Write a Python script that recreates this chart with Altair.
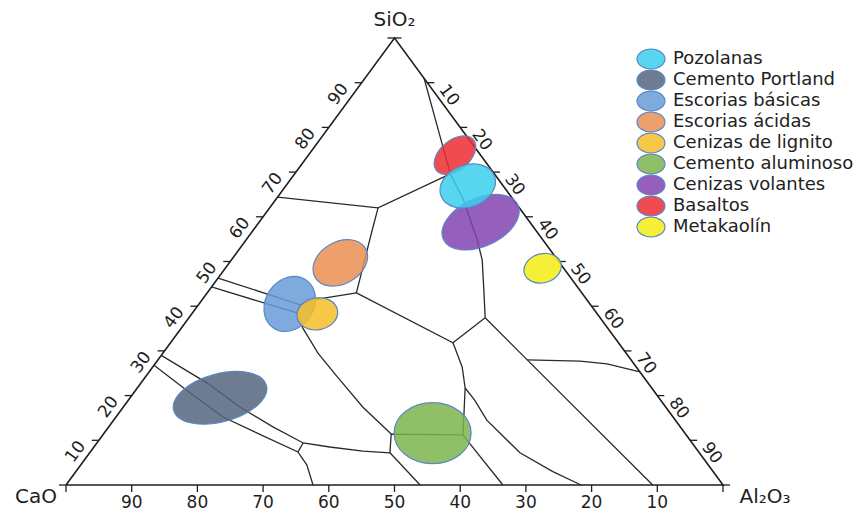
import altair as alt
import pandas as pd

# ---------------- data ----------------
tick_values = [0, 10, 20, 30, 40, 50, 60, 70, 80, 90, 100]
label_values = [10, 20, 30, 40, 50, 60, 70, 80, 90]

# Boundary lines as compositions (SiO2 %, Al2O3 %); CaO = 100 - SiO2 - Al2O3
line_a = [(91.0, 9.0), (69.6, 23.7), (63.8, 28.6), (54.8, 35.2), (50.3, 38.2), (43.6, 41.8), (37.4, 45.1)]
line_b = [(64.4, 0.0), (62.0, 16.5), (69.6, 23.7)]
line_c = [(62.0, 16.5), (57.0, 18.1), (43.0, 22.7), (31.8, 43.0), (37.4, 45.1)]
line_d = [(37.4, 45.1), (28.0, 56.2), (0.0, 89.3)]
line_e = [(28.0, 56.2), (27.7, 64.4), (27.1, 68.8), (25.3, 74.7)]
line_f = [(31.8, 43.0), (26.4, 47.1), (21.7, 49.9), (16.8, 52.2), (11.2, 54.8)]
line_g = [(21.7, 49.9), (19.0, 52.7), (14.5, 56.8), (7.2, 65.5), (3.0, 72.6), (0.0, 78.4)]
line_h = [(11.2, 54.8), (0.0, 66.5)]
line_i = [(11.2, 54.8), (11.4, 43.8), (7.2, 45.7), (0.0, 53.9)]
line_j = [(46.3, 0.0), (40.3, 15.5), (41.4, 16.9), (43.0, 22.7)]
line_k = [(44.3, 0.0), (38.5, 15.9), (35.1, 18.5), (29.5, 23.6), (24.2, 29.2), (17.4, 36.5), (11.4, 43.8)]
line_l = [(40.3, 15.5), (38.5, 15.9)]
line_m = [(29.0, 0.0), (22.8, 10.1), (17.4, 17.8), (13.0, 25.0), (9.4, 31.4), (8.5, 35.9), (7.6, 41.4), (7.2, 45.7)]
line_n = [(26.8, 0.0), (20.6, 8.6), (15.2, 16.3), (11.6, 23.3), (7.4, 31.6), (4.5, 34.4), (0.0, 37.6)]
line_o = [(9.4, 31.4), (7.4, 31.6)]
triangle = [(0.0, 0.0), (100.0, 0.0), (0.0, 100.0), (0.0, 0.0)]

# Material fields
names = ["Pozolanas", "Cemento Portland", "Escorias básicas", "Escorias ácidas",
         "Cenizas de lignito", "Cemento aluminoso", "Cenizas volantes", "Basaltos", "Metakaolín"]
colors = ["#3bcfed", "#54657e", "#679bd8", "#eb8f52", "#f6be28", "#7bb54d", "#8343b2", "#ed2b31", "#f3ed14"]
center_sio2 = [66.9, 19.5, 40.5, 49.7, 38.3, 11.6, 58.8, 73.8, 48.5]
center_al2o3 = [27.7, 13.7, 13.8, 16.9, 19.1, 50.0, 33.7, 22.3, 48.3]
draw_order = [8, 1, 2, 3, 4, 5, 6, 7, 9]
# ellipse extent (pixels) and tilt
ell_major = [28.5, 48, 29, 29, 20.5, 38.5, 41, 24, 19]
ell_minor = [21, 24, 24, 21, 16, 30.5, 24, 15, 14.5]
ell_angle = [340, 345, 305, 330, 350, 0, 335, 320, 345]


def ellipse_path(r, sx=1.0):
    k = 0.5523
    v = lambda z: f"{z:.4f}"
    return (f"M {v(-sx)} 0 C {v(-sx)} {v(-k*r)} {v(-k*sx)} {v(-r)} 0 {v(-r)} "
            f"C {v(k*sx)} {v(-r)} {v(sx)} {v(-k*r)} {v(sx)} 0 "
            f"C {v(sx)} {v(k*r)} {v(k*sx)} {v(r)} 0 {v(r)} "
            f"C {v(-k*sx)} {v(r)} {v(-sx)} {v(k*r)} {v(-sx)} 0 Z")


lines = {"a": line_a, "b": line_b, "c": line_c, "d": line_d, "e": line_e, "f": line_f,
         "g": line_g, "h": line_h, "i": line_i, "j": line_j, "k": line_k, "l": line_l,
         "m": line_m, "n": line_n, "o": line_o}
line_rows = []
for lid, pts in lines.items():
    for idx, (si, al) in enumerate(pts):
        line_rows.append({"lid": lid, "idx": idx, "si": si, "al": al})
lines_df = pd.DataFrame(line_rows)
tri_df = pd.DataFrame([{"idx": i, "si": si, "al": al} for i, (si, al) in enumerate(triangle)])

ell_df = pd.DataFrame({
    "name": names, "si": center_sio2, "al": center_al2o3, "ord": draw_order,
    "shape": [ellipse_path(mi / ma) for ma, mi in zip(ell_major, ell_minor)],
    "sz": [(2 * ma) ** 2 for ma in ell_major],
    "ang": ell_angle,
})
legend_df = pd.DataFrame({"name": names})

left_ticks = pd.DataFrame({"si": tick_values, "al": [0] * len(tick_values)})
bottom_ticks = pd.DataFrame({"si": [0] * len(tick_values), "al": [100 - v for v in tick_values]})
right_ticks = pd.DataFrame({"si": [100 - v for v in tick_values], "al": tick_values})

left_labels = pd.DataFrame({"si": label_values, "al": [0] * 9, "t": [str(v) for v in label_values]})
bottom_labels = pd.DataFrame({"si": [0] * 9, "al": [100 - v for v in label_values], "t": [str(v) for v in label_values]})
right_labels = pd.DataFrame({"si": [100 - v for v in label_values], "al": label_values, "t": [str(v) for v in label_values]})

vertex_names = ["SiO₂", "CaO", "Al₂O₃"]
vertex_si = [100, 0, 0]
vertex_al = [0, 0, 100]
vertex_dx = [0, -30, 42]
vertex_dy = [-18, 12, 12]

# ---------------- chart ----------------
X = alt.X("x:Q", scale=alt.Scale(domain=[0, 100], nice=False, zero=False), axis=None)
Y = alt.Y("y:Q", scale=alt.Scale(domain=[0, 100], nice=False, zero=False), axis=None)
calc = dict(x="datum.al + datum.si / 2", y="datum.si")
FONT = "DejaVu Sans"
color_scale = alt.Scale(domain=names, range=colors)

tri = alt.Chart(tri_df).mark_line(color="#1e1e1e", strokeWidth=1.6).encode(
    x=X, y=Y, order="idx:Q").transform_calculate(**calc)

blines = alt.Chart(lines_df).mark_line(color="#2a2a2a", strokeWidth=1.3).encode(
    x=X, y=Y, detail="lid:N", order="idx:Q").transform_calculate(**calc)


def ticks(df, path):
    return alt.Chart(df).mark_point(shape=path, size=196, filled=False, color="#1e1e1e",
                                    strokeWidth=1.3, opacity=1).encode(x=X, y=Y).transform_calculate(**calc)


tick_layers = [ticks(left_ticks, "M 0 0 L -1 0"), ticks(bottom_ticks, "M 0 0 L 0 1"),
               ticks(right_ticks, "M 0 0 L 1 0")]

lab_left = alt.Chart(left_labels).mark_text(font=FONT, fontSize=17, angle=306, dx=-23, dy=-12,
                                            color="#1e1e1e").encode(x=X, y=Y, text="t:N").transform_calculate(**calc)
lab_bottom = alt.Chart(bottom_labels).mark_text(font=FONT, fontSize=17, dy=18,
                                                color="#1e1e1e").encode(x=X, y=Y, text="t:N").transform_calculate(**calc)
lab_right = alt.Chart(right_labels).mark_text(font=FONT, fontSize=17, angle=54, dx=23, dy=-10,
                                              color="#1e1e1e").encode(x=X, y=Y, text="t:N").transform_calculate(**calc)
vertex_layers = [
    alt.Chart(pd.DataFrame({"si": [vertex_si[i]], "al": [vertex_al[i]], "t": [vertex_names[i]]}))
    .mark_text(font=FONT, fontSize=20, color="#1e1e1e", dx=vertex_dx[i], dy=vertex_dy[i])
    .encode(x=X, y=Y, text="t:N").transform_calculate(**calc)
    for i in range(3)
]

ellipses = alt.Chart(ell_df).mark_point(filled=True, opacity=1, fillOpacity=0.85, stroke="#5b87c4",
                                        strokeWidth=1.2, strokeOpacity=1).encode(
    x=X, y=Y,
    fill=alt.Fill("name:N", scale=color_scale, legend=None),
    shape=alt.Shape("shape:N", scale=None),
    size=alt.Size("sz:Q", scale=None),
    angle=alt.Angle("ang:Q", scale=None),
    order=alt.Order("ord:Q"),
).transform_calculate(**calc)

main = alt.layer(tri, blines, *tick_layers, lab_left, lab_bottom, lab_right, *vertex_layers, ellipses)

# legend (own point scale for the rows)
LY = alt.Y("name:N", scale=alt.Scale(type="point", domain=names, range=[21, 189], padding=0), axis=None)
leg_sym = alt.Chart(legend_df).mark_point(filled=True, opacity=1, fillOpacity=0.85, stroke="#5b87c4",
                                          strokeWidth=1.2, strokeOpacity=1, size=400,
                                          shape=ellipse_path(1.0, 1.4)).encode(
    x=alt.value(585), y=LY, fill=alt.Fill("name:N", scale=color_scale, legend=None))
leg_txt = alt.Chart(legend_df).mark_text(font=FONT, fontSize=18, align="left", baseline="middle",
                                         color="#222222").encode(x=alt.value(607), y=LY, text="name:N")
legend = alt.layer(leg_sym, leg_txt)

chart = alt.layer(main, legend).resolve_scale(y="independent").properties(
    width=657, height=447,
    autosize=alt.AutoSizeParams(type="none"),
    padding={"left": 58, "top": 30, "right": 132, "bottom": 28},
).configure_view(stroke=None)

chart.save("out.html", embed_options={"renderer": "svg", "actions": False})
